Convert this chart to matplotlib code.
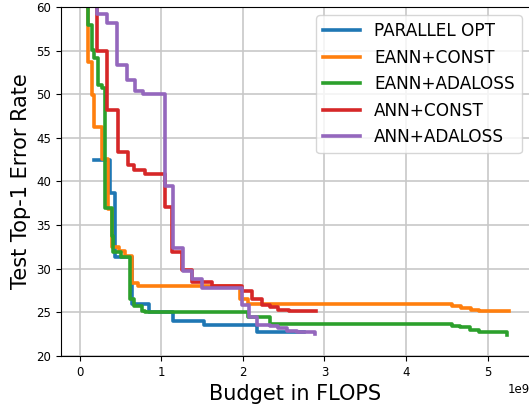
import numpy as np
import matplotlib
matplotlib.use("Agg")
import matplotlib.pyplot as plt

## step curves (x in FLOPS / 1e9, y = error rate)
par_x = [0.17, 0.37, 0.43, 0.64, 0.85, 1.14, 1.52, 2.17, 2.75]
par_y = [42.5, 38.7, 31.4, 26.0, 25.0, 24.0, 23.5, 22.8, 22.8]

econst_x = [0.02, 0.10, 0.15, 0.18, 0.27, 0.35, 0.40, 0.48, 0.56, 0.64, 0.71,
            1.96, 2.06, 4.56, 4.68, 4.80, 4.90, 5.00, 5.26]
econst_y = [70.0, 53.7, 49.9, 46.2, 42.6, 36.8, 32.5, 32.0, 31.5, 28.4, 28.0,
            26.5, 26.0, 25.7, 25.5, 25.3, 25.2, 25.1, 25.1]

eada_x = [0.02, 0.10, 0.15, 0.18, 0.22, 0.27, 0.31, 0.39, 0.41, 0.51, 0.61,
          0.67, 0.76, 0.80, 2.06, 2.33, 4.56, 4.66, 4.78, 4.90, 5.02, 5.24]
eada_y = [70.0, 57.9, 55.1, 54.2, 51.1, 50.7, 37.0, 33.7, 31.9, 31.3, 26.5,
          25.7, 25.1, 25.0, 24.5, 23.7, 23.4, 23.3, 23.0, 22.8, 22.7, 22.4]

aconst_x = [0.02, 0.21, 0.34, 0.47, 0.59, 0.67, 0.80, 1.04, 1.13, 1.25, 1.37,
            1.62, 1.99, 2.11, 2.23, 2.33, 2.43, 2.57, 2.90]
aconst_y = [70.0, 54.9, 48.2, 43.4, 41.9, 41.3, 40.8, 37.1, 31.9, 29.9, 28.5,
            28.0, 27.4, 26.5, 25.8, 25.6, 25.3, 25.1, 25.1]

aada_x = [0.02, 0.21, 0.34, 0.46, 0.58, 0.68, 0.78, 1.04, 1.14, 1.26, 1.37,
          1.50, 1.99, 2.08, 2.17, 2.33, 2.43, 2.54, 2.66, 2.89]
aada_y = [70.0, 59.2, 58.2, 53.4, 51.6, 50.4, 50.0, 39.5, 32.4, 29.7, 28.8,
          27.8, 25.9, 24.5, 23.6, 23.4, 23.2, 22.9, 22.8, 22.5]

curves = [
    ("PARALLEL OPT", par_x, par_y),
    ("EANN+CONST", econst_x, econst_y),
    ("EANN+ADALOSS", eada_x, eada_y),
    ("ANN+CONST", aconst_x, aconst_y),
    ("ANN+ADALOSS", aada_x, aada_y),
]

fig = plt.figure(figsize=(5.29, 4.08), dpi=100)
ax = fig.add_axes([0.1153, 0.1275, 0.8866, 0.8554])

for name, xs, ys in curves:
    ax.step(np.array(xs) * 1e9, ys, where="post", lw=2.6, label=name)

ax.set_xlim(-0.23e9, 5.52e9)
ax.set_ylim(20, 60)
ax.grid(True, color="#c8c8c8", lw=1.2)
ax.tick_params(labelsize=8.5)
ax.xaxis.get_offset_text().set_fontsize(8.5)
ax.set_xlabel("Budget in FLOPS", fontsize=15)
ax.set_ylabel("Test Top-1 Error Rate", fontsize=15)
ax.legend(loc="upper right", fontsize=12.2, handlelength=2.2)

fig.savefig("out.png", dpi=100)
